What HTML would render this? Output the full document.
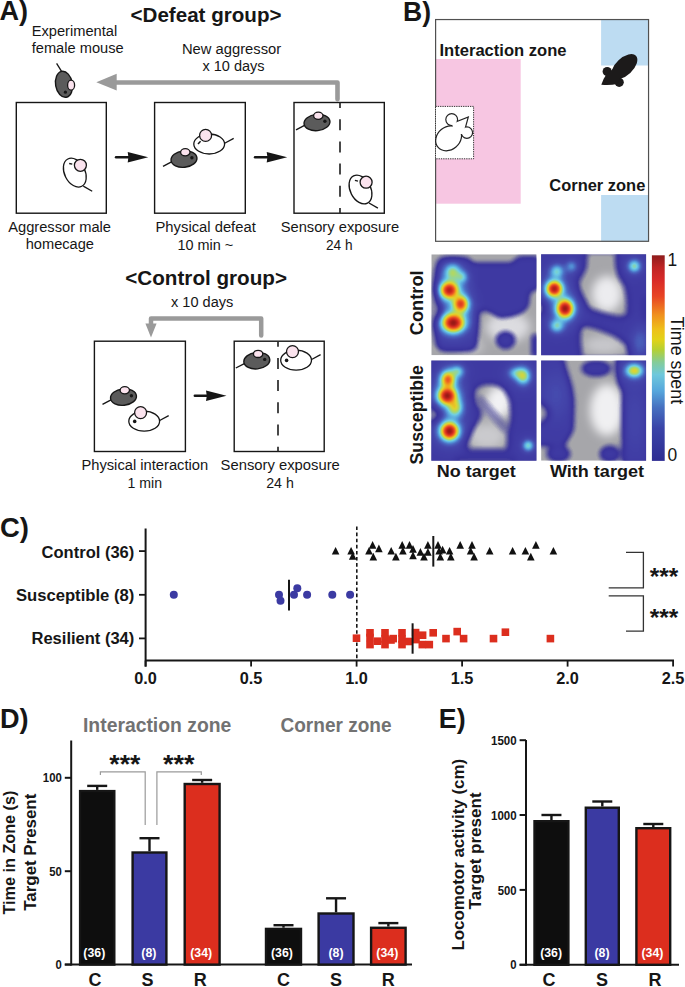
<!DOCTYPE html><html><head><meta charset="utf-8"><style>html,body{margin:0;padding:0;background:#fff;overflow:hidden;}svg{display:block;font-family:"Liberation Sans",sans-serif;}</style></head><body><svg width="685" height="987" viewBox="0 0 685 987"><rect width="685" height="987" fill="#fff"/><text x="-0.5" y="19.6" font-size="27" font-weight="bold" text-anchor="start" fill="#161616" textLength="28.6" lengthAdjust="spacingAndGlyphs" >A)</text>
<text x="130.5" y="22.3" font-size="19.5" font-weight="bold" text-anchor="start" fill="#161616" textLength="151" lengthAdjust="spacingAndGlyphs" >&lt;Defeat group&gt;</text>
<text x="31.7" y="35.8" font-size="14" font-weight="normal" text-anchor="start" fill="#161616" textLength="85.5" lengthAdjust="spacingAndGlyphs" >Experimental</text>
<text x="31.7" y="52.7" font-size="14" font-weight="normal" text-anchor="start" fill="#161616" textLength="92" lengthAdjust="spacingAndGlyphs" >female mouse</text>
<text x="181.9" y="53.9" font-size="14" font-weight="normal" text-anchor="start" fill="#161616" textLength="99.3" lengthAdjust="spacingAndGlyphs" >New aggressor</text>
<text x="202.4" y="71.4" font-size="14" font-weight="normal" text-anchor="start" fill="#161616" textLength="62.2" lengthAdjust="spacingAndGlyphs" >x 10 days</text>
<path d="M337.5 99.3 L337.5 82.5 L114 82.5" fill="none" stroke="#9a9a9a" stroke-width="4.6" stroke-linejoin="round" stroke-linecap="round"/>
<polygon points="96.3,82.3 116.7,73.8 116.7,90.6" fill="#9a9a9a"/>
<g transform="translate(64,84.3)"><line x1="-7.4" y1="-21" x2="-2.3" y2="-12.6" stroke="#161616" stroke-width="1.3"/><ellipse rx="8.4" ry="13.1" transform="rotate(-10)" fill="#5b5b5b" stroke="#161616" stroke-width="1.4"/><ellipse cx="7.1" cy="0.9" rx="3.5" ry="5" fill="#fbe3ee" stroke="#161616" stroke-width="1.3"/><circle cx="1.4" cy="7.9" r="1.6" fill="#161616"/></g>
<rect x="16.3" y="102.5" width="90.0" height="110.69999999999999" fill="#fff" stroke="#161616" stroke-width="1.4" />
<rect x="154.6" y="102.5" width="90.70000000000002" height="110.69999999999999" fill="#fff" stroke="#161616" stroke-width="1.4" />
<rect x="294" y="102.5" width="90.30000000000001" height="110.69999999999999" fill="#fff" stroke="#161616" stroke-width="1.4" />
<line x1="340" y1="102.5" x2="340" y2="213.2" stroke="#2a2a2a" stroke-width="1.7" stroke-dasharray="11 11.2" stroke-dashoffset="5.5"/>
<g transform="translate(74.8,172.6)"><line x1="8.5" y1="13.5" x2="17.4" y2="18.6" stroke="#161616" stroke-width="1.3"/><ellipse rx="10.2" ry="15.3" transform="rotate(-27)" fill="#fff" stroke="#161616" stroke-width="1.3"/><circle cx="5.6" cy="-7.3" r="6" fill="#fbe3ee" stroke="#161616" stroke-width="1.3"/><line x1="-5.6" y1="-9.1" x2="-2.5" y2="-8.4" stroke="#161616" stroke-width="1.3"/></g>
<g transform="translate(184,159.1)"><line x1="-21" y1="7.3" x2="-12" y2="2.6" stroke="#161616" stroke-width="1.3"/><ellipse rx="13" ry="8.2" transform="rotate(-6)" fill="#5b5b5b" stroke="#161616" stroke-width="1.4"/><ellipse cx="1.3" cy="-6.8" rx="4.7" ry="3.6" fill="#fbe3ee" stroke="#161616" stroke-width="1.3"/><circle cx="7.9" cy="-1.3" r="1.7" fill="#161616"/></g>
<g transform="translate(209.2,144)"><line x1="15" y1="-0.5" x2="24.5" y2="-5.6" stroke="#161616" stroke-width="1.3"/><ellipse rx="15.4" ry="10" fill="#fff" stroke="#161616" stroke-width="1.3"/><circle cx="-3.6" cy="-8.6" r="6" fill="#fbe3ee" stroke="#161616" stroke-width="1.3"/><line x1="-11.2" y1="0" x2="-8.6" y2="-2.7" stroke="#161616" stroke-width="1.5"/></g>
<g transform="translate(317,122.5)"><line x1="-21" y1="7.3" x2="-12" y2="2.6" stroke="#161616" stroke-width="1.3"/><ellipse rx="13" ry="8.2" transform="rotate(-6)" fill="#5b5b5b" stroke="#161616" stroke-width="1.4"/><ellipse cx="1.3" cy="-6.8" rx="4.7" ry="3.6" fill="#fbe3ee" stroke="#161616" stroke-width="1.3"/><circle cx="7.9" cy="-1.3" r="1.7" fill="#161616"/></g>
<g transform="translate(360.5,189.5)"><line x1="8.5" y1="13.5" x2="17.4" y2="18.6" stroke="#161616" stroke-width="1.3"/><ellipse rx="10.2" ry="15.3" transform="rotate(-27)" fill="#fff" stroke="#161616" stroke-width="1.3"/><circle cx="5.6" cy="-7.3" r="6" fill="#fbe3ee" stroke="#161616" stroke-width="1.3"/><line x1="-5.6" y1="-9.1" x2="-2.5" y2="-8.4" stroke="#161616" stroke-width="1.3"/></g>
<line x1="116" y1="157.3" x2="130.2" y2="157.3" stroke="#161616" stroke-width="2.4" stroke-linecap="round"/>
<path d="M148.2,157.3 L127.69999999999999,152.0 Q129.2,157.3 127.69999999999999,162.60000000000002 Z" fill="#161616"/>
<line x1="255" y1="157.3" x2="269.2" y2="157.3" stroke="#161616" stroke-width="2.4" stroke-linecap="round"/>
<path d="M287.2,157.3 L266.7,152.0 Q268.2,157.3 266.7,162.60000000000002 Z" fill="#161616"/>
<text x="8.2" y="232.1" font-size="14" font-weight="normal" text-anchor="start" fill="#161616" textLength="102.8" lengthAdjust="spacingAndGlyphs" >Aggressor male</text>
<text x="25.7" y="249.3" font-size="14" font-weight="normal" text-anchor="start" fill="#161616" textLength="68.3" lengthAdjust="spacingAndGlyphs" >homecage</text>
<text x="155.5" y="232.0" font-size="14" font-weight="normal" text-anchor="start" fill="#161616" textLength="100.3" lengthAdjust="spacingAndGlyphs" >Physical defeat</text>
<text x="177.4" y="249.8" font-size="14" font-weight="normal" text-anchor="start" fill="#161616" textLength="55.8" lengthAdjust="spacingAndGlyphs" >10 min ~</text>
<text x="280.7" y="232.0" font-size="14" font-weight="normal" text-anchor="start" fill="#161616" textLength="118.5" lengthAdjust="spacingAndGlyphs" >Sensory exposure</text>
<text x="326" y="249.8" font-size="14" font-weight="normal" text-anchor="start" fill="#161616" textLength="26.6" lengthAdjust="spacingAndGlyphs" >24 h</text>
<text x="125.3" y="285" font-size="19.5" font-weight="bold" text-anchor="start" fill="#161616" textLength="161.7" lengthAdjust="spacingAndGlyphs" >&lt;Control group&gt;</text>
<text x="171" y="307.2" font-size="14" font-weight="normal" text-anchor="start" fill="#161616" textLength="62.4" lengthAdjust="spacingAndGlyphs" >x 10 days</text>
<path d="M261.2 335.5 L261.2 318.5 L151 318.5 L151 325" fill="none" stroke="#9a9a9a" stroke-width="4.5" stroke-linejoin="round" stroke-linecap="round"/>
<polygon points="151,337.5 145.4,323.6 156.6,323.6" fill="#9a9a9a"/>
<rect x="94.4" y="341.2" width="91.0" height="110.30000000000001" fill="#fff" stroke="#161616" stroke-width="1.4" />
<rect x="234.2" y="341.2" width="90.0" height="110.30000000000001" fill="#fff" stroke="#161616" stroke-width="1.4" />
<line x1="278" y1="341.2" x2="278" y2="451.5" stroke="#2a2a2a" stroke-width="1.7" stroke-dasharray="11 11.2" stroke-dashoffset="5.5"/>
<g transform="translate(123.5,397.1)"><line x1="-21" y1="7.3" x2="-12" y2="2.6" stroke="#161616" stroke-width="1.3"/><ellipse rx="13" ry="8.2" transform="rotate(-6)" fill="#5b5b5b" stroke="#161616" stroke-width="1.4"/><ellipse cx="1.3" cy="-6.8" rx="4.7" ry="3.6" fill="#fbe3ee" stroke="#161616" stroke-width="1.3"/><circle cx="7.9" cy="-1.3" r="1.7" fill="#161616"/></g>
<g transform="translate(144.2,421.2)"><line x1="15" y1="-0.5" x2="24.5" y2="-5.6" stroke="#161616" stroke-width="1.3"/><ellipse rx="15.4" ry="10" fill="#fff" stroke="#161616" stroke-width="1.3"/><circle cx="-3.6" cy="-8.6" r="6" fill="#fbe3ee" stroke="#161616" stroke-width="1.3"/><circle cx="-9.5" cy="0.2" r="1.8" fill="#161616"/></g>
<g transform="translate(256.8,360.7)"><line x1="-21" y1="7.3" x2="-12" y2="2.6" stroke="#161616" stroke-width="1.3"/><ellipse rx="13" ry="8.2" transform="rotate(-6)" fill="#5b5b5b" stroke="#161616" stroke-width="1.4"/><ellipse cx="1.3" cy="-6.8" rx="4.7" ry="3.6" fill="#fbe3ee" stroke="#161616" stroke-width="1.3"/><circle cx="7.9" cy="-1.3" r="1.7" fill="#161616"/></g>
<g transform="translate(296.1,360.2)"><line x1="15" y1="-0.5" x2="24.5" y2="-5.6" stroke="#161616" stroke-width="1.3"/><ellipse rx="15.4" ry="10" fill="#fff" stroke="#161616" stroke-width="1.3"/><circle cx="-3.6" cy="-8.6" r="6" fill="#fbe3ee" stroke="#161616" stroke-width="1.3"/><circle cx="-9.5" cy="0.2" r="1.8" fill="#161616"/></g>
<line x1="194.8" y1="395.8" x2="208.5" y2="395.8" stroke="#161616" stroke-width="2.4" stroke-linecap="round"/>
<path d="M226.5,395.8 L206.0,390.5 Q207.5,395.8 206.0,401.1 Z" fill="#161616"/>
<text x="81.4" y="470.1" font-size="14" font-weight="normal" text-anchor="start" fill="#161616" textLength="126.8" lengthAdjust="spacingAndGlyphs" >Physical interaction</text>
<text x="127.5" y="487.7" font-size="14" font-weight="normal" text-anchor="start" fill="#161616" textLength="34.5" lengthAdjust="spacingAndGlyphs" >1 min</text>
<text x="220.6" y="470.1" font-size="14" font-weight="normal" text-anchor="start" fill="#161616" textLength="119.2" lengthAdjust="spacingAndGlyphs" >Sensory exposure</text>
<text x="266.2" y="487.7" font-size="14" font-weight="normal" text-anchor="start" fill="#161616" textLength="27.6" lengthAdjust="spacingAndGlyphs" >24 h</text>
<text x="403" y="20.7" font-size="27" font-weight="bold" text-anchor="start" fill="#161616" textLength="28" lengthAdjust="spacingAndGlyphs" >B)</text>
<rect x="435.6" y="19.55" width="212.95" height="221.75" fill="#fff"/>
<rect x="435.5" y="59" width="85.2" height="144.7" fill="#f7c6e2"/>
<rect x="601.1" y="19.5" width="47.4" height="46" fill="#bddcf2"/>
<rect x="601.1" y="195" width="47.4" height="46.3" fill="#bddcf2"/>
<rect x="435.6" y="19.55" width="212.95" height="221.75" fill="none" stroke="#505050" stroke-width="1.2"/>
<text x="439.5" y="55.9" font-size="16.5" font-weight="bold" text-anchor="start" fill="#161616" textLength="127" lengthAdjust="spacingAndGlyphs" >Interaction zone</text>
<text x="549.3" y="190.6" font-size="16.5" font-weight="bold" text-anchor="start" fill="#161616" textLength="96" lengthAdjust="spacingAndGlyphs" >Corner zone</text>
<rect x="435.5" y="106.4" width="38.1" height="52.4" fill="#fff" stroke="#333" stroke-width="1" stroke-dasharray="1.3 1.0"/>
<g fill="none" stroke="#222" stroke-width="2.4"><ellipse cx="448.6" cy="138.3" rx="13.3" ry="10.8" transform="rotate(-40 448.6 138.3)"/><circle cx="451.7" cy="119.6" r="5.3"/><circle cx="466.9" cy="132.6" r="5.1"/><polygon points="452,124 467.4,118 463,134 455,134"/></g>
<g fill="#fff" stroke="none"><ellipse cx="448.6" cy="138.3" rx="13.3" ry="10.8" transform="rotate(-40 448.6 138.3)"/><circle cx="451.7" cy="119.6" r="5.3"/><circle cx="466.9" cy="132.6" r="5.1"/><polygon points="452,124 467.4,118 463,134 455,134"/></g>
<g fill="#1c1a1a"><ellipse cx="624.4" cy="66.6" rx="15.8" ry="8.6" transform="rotate(-43 624.4 66.6)"/><circle cx="607.2" cy="71.5" r="4.6"/><circle cx="619.2" cy="82.3" r="4.6"/><path d="M601.3 84.8 Q603 79 606 75 L613 69 L621 77 L617 84 Q611 85.5 601.3 84.8 Z"/></g>
<defs><filter id="heatf" x="-10%" y="-10%" width="120%" height="120%" color-interpolation-filters="sRGB"><feGaussianBlur in="SourceGraphic" stdDeviation="0.8" result="b"/><feComponentTransfer in="b" result="c"><feFuncR type="table" tableValues="0.180 0.186 0.191 0.197 0.202 0.208 0.213 0.220 0.227 0.234 0.241 0.249 0.256 0.263 0.270 0.276 0.282 0.288 0.295 0.306 0.317 0.329 0.343 0.365 0.388 0.411 0.434 0.472 0.515 0.558 0.600 0.643 0.687 0.732 0.776 0.821 0.865 0.893 0.905 0.917 0.929 0.942 0.947 0.943 0.939 0.935 0.931 0.927 0.917 0.904 0.890 0.877 0.863 0.850 0.837 0.814 0.784 0.755 0.725 0.696 0.667 0.637 0.608 0.578 0.549"/><feFuncG type="table" tableValues="0.173 0.176 0.179 0.182 0.185 0.188 0.191 0.197 0.205 0.213 0.222 0.234 0.249 0.263 0.277 0.311 0.347 0.383 0.420 0.473 0.526 0.579 0.630 0.674 0.718 0.761 0.805 0.820 0.826 0.833 0.839 0.845 0.845 0.842 0.839 0.836 0.833 0.811 0.771 0.731 0.691 0.651 0.608 0.561 0.513 0.465 0.418 0.370 0.336 0.309 0.282 0.256 0.229 0.202 0.175 0.160 0.152 0.143 0.135 0.127 0.119 0.111 0.103 0.094 0.086"/><feFuncB type="table" tableValues="0.565 0.571 0.577 0.583 0.589 0.595 0.601 0.609 0.617 0.625 0.633 0.643 0.653 0.663 0.674 0.695 0.718 0.740 0.763 0.789 0.816 0.843 0.864 0.871 0.878 0.885 0.892 0.827 0.738 0.649 0.560 0.471 0.406 0.354 0.302 0.250 0.198 0.167 0.156 0.146 0.135 0.124 0.120 0.125 0.131 0.136 0.142 0.147 0.147 0.144 0.140 0.137 0.134 0.130 0.127 0.123 0.118 0.113 0.108 0.103 0.098 0.093 0.088 0.083 0.078"/></feComponentTransfer><feColorMatrix in="b" type="matrix" values="0 0 0 0 0 0 0 0 0 0 0 0 0 0 0 1 0 0 0 0" result="a"/><feComponentTransfer in="a" result="a2"><feFuncA type="table" tableValues="0.000 0.000 0.112 0.269 0.425 0.581 0.737 0.894 1.000 1.000 1.000 1.000 1.000 1.000 1.000 1.000 1.000 1.000 1.000 1.000 1.000 1.000 1.000 1.000 1.000 1.000 1.000 1.000 1.000 1.000 1.000 1.000 1.000 1.000 1.000 1.000 1.000 1.000 1.000 1.000 1.000 1.000 1.000 1.000 1.000 1.000 1.000 1.000 1.000 1.000 1.000 1.000 1.000 1.000 1.000 1.000 1.000 1.000 1.000 1.000 1.000 1.000 1.000 1.000 1.000"/></feComponentTransfer><feComposite in="c" in2="a2" operator="in"/></filter><filter id="rb25" x="-20%" y="-20%" width="140%" height="140%"><feGaussianBlur stdDeviation="2.5"/></filter><filter id="rb32" x="-20%" y="-20%" width="140%" height="140%"><feGaussianBlur stdDeviation="3.2"/></filter><filter id="rb4" x="-20%" y="-20%" width="140%" height="140%"><feGaussianBlur stdDeviation="4"/></filter><filter id="bgb" x="-30%" y="-30%" width="160%" height="160%"><feGaussianBlur stdDeviation="5"/></filter><radialGradient id="hot"><stop offset="0.00" stop-color="#fff" stop-opacity="1.000"/><stop offset="0.05" stop-color="#fff" stop-opacity="0.973"/><stop offset="0.10" stop-color="#fff" stop-opacity="0.896"/><stop offset="0.15" stop-color="#fff" stop-opacity="0.783"/><stop offset="0.20" stop-color="#fff" stop-opacity="0.651"/><stop offset="0.25" stop-color="#fff" stop-opacity="0.516"/><stop offset="0.30" stop-color="#fff" stop-opacity="0.393"/><stop offset="0.35" stop-color="#fff" stop-opacity="0.291"/><stop offset="0.40" stop-color="#fff" stop-opacity="0.211"/><stop offset="0.45" stop-color="#fff" stop-opacity="0.152"/><stop offset="0.50" stop-color="#fff" stop-opacity="0.110"/><stop offset="0.55" stop-color="#fff" stop-opacity="0.081"/><stop offset="0.60" stop-color="#fff" stop-opacity="0.061"/><stop offset="0.65" stop-color="#fff" stop-opacity="0.047"/><stop offset="0.70" stop-color="#fff" stop-opacity="0.036"/><stop offset="0.75" stop-color="#fff" stop-opacity="0.028"/><stop offset="0.80" stop-color="#fff" stop-opacity="0.022"/><stop offset="0.85" stop-color="#fff" stop-opacity="0.017"/><stop offset="0.90" stop-color="#fff" stop-opacity="0.013"/><stop offset="0.95" stop-color="#fff" stop-opacity="0.010"/><stop offset="1" stop-color="#fff" stop-opacity="0"/></radialGradient><linearGradient id="cbar" x1="0" y1="0" x2="0" y2="1"><stop offset="0" stop-color="#8e1c1c"/><stop offset="0.06" stop-color="#c02424"/><stop offset="0.12" stop-color="#d82a28"/><stop offset="0.2" stop-color="#e84424"/><stop offset="0.29" stop-color="#f0901e"/><stop offset="0.36" stop-color="#eec01a"/><stop offset="0.41" stop-color="#e2d218"/><stop offset="0.46" stop-color="#b4d034"/><stop offset="0.52" stop-color="#84cc98"/><stop offset="0.58" stop-color="#6ec8dc"/><stop offset="0.66" stop-color="#56a6dc"/><stop offset="0.74" stop-color="#4670c0"/><stop offset="0.84" stop-color="#3a44a8"/><stop offset="1" stop-color="#2e2c92"/></linearGradient><clipPath id="c1"><rect x="431.3" y="254.3" width="105.2" height="101"/></clipPath><clipPath id="c2"><rect x="541.1" y="254.3" width="105" height="101"/></clipPath><clipPath id="c3"><rect x="431.3" y="360.5" width="105.2" height="100.2"/></clipPath><clipPath id="c4"><rect x="541.1" y="360.5" width="105" height="100.2"/></clipPath></defs>
<g clip-path="url(#c1)"><rect x="431.3" y="254.3" width="105.2" height="101" fill="#a6a6aa"/><g filter="url(#bgb)"><ellipse cx="508" cy="327" rx="22" ry="15" fill="#dcdce0"/><ellipse cx="470" cy="346" rx="14" ry="8" fill="#c4c4c8"/></g></g>
<g clip-path="url(#c1)"><g filter="url(#heatf)">
<rect x="416.3" y="239.3" width="135.2" height="131" fill="#000"/>
<g opacity="0.16" filter="url(#rb32)"><path d="M437,262 L441,257.5 L468,257.5 L472,262.5 L512,262.5 L518,256 L540,256 L540,289 L530,292 L529,306 L524,312 L513,316.5 L500,318.6 L489,312 L478,310 L477,349 L470,351.5 L440,351.5 L436,345 L436,322 L443,311 L437,300 L436,275 Z" fill="#fff"/><ellipse cx="505.6" cy="340.1" rx="10.2" ry="9.1" fill="#fff"/><rect x="531.4" y="334" width="9" height="24" fill="#fff"/><ellipse cx="522.8" cy="272" rx="9" ry="9" fill="#fff" opacity="0.5"/></g>
<ellipse cx="452.5" cy="272.1" rx="27.9" ry="27.9" fill="url(#hot)" opacity="0.38"/>
<ellipse cx="449.3" cy="290.1" rx="29.2" ry="27.9" fill="url(#hot)" opacity="0.92"/>
<ellipse cx="460.7" cy="304" rx="24.7" ry="27.3" fill="url(#hot)" opacity="0.78"/>
<ellipse cx="453.3" cy="322.8" rx="35.1" ry="29.9" fill="url(#hot)" opacity="1.0"/>
<ellipse cx="462" cy="277" rx="19.5" ry="19.5" fill="url(#hot)" opacity="0.25"/>
</g></g>
<g clip-path="url(#c2)"><rect x="541.1" y="254.3" width="105" height="101" fill="#a6a6aa"/><g filter="url(#bgb)"><ellipse cx="607" cy="294" rx="15" ry="18" fill="#ececef"/><ellipse cx="604" cy="345" rx="20" ry="9" fill="#c8c8cc"/></g></g>
<g clip-path="url(#c2)"><g filter="url(#heatf)">
<rect x="526.1" y="239.3" width="135" height="131" fill="#000"/>
<g opacity="0.16" filter="url(#rb32)"><rect x="530" y="245" width="130" height="120" fill="#fff"/><path d="M585,250 L584.8,256.6 L583.7,268 L576.8,280.5 L576.8,289.6 L581.4,299.8 L587.1,310.1 L604.2,315.8 L621.2,319.2 L629.2,315.8 L629.2,299.8 L626.9,286.2 L620.1,274.8 L617.8,263.4 L618,250 Z" fill="#000"/><path d="M584.8,323.7 L579.1,326 L578,340 L580.2,360 L632,360 L629.2,343.1 L615.5,334 L598.5,327.2 Z" fill="#000"/><ellipse cx="540" cy="308" rx="6" ry="8" fill="#000"/><rect x="643" y="297" width="6" height="24" fill="#000" opacity="0.5"/></g>
<ellipse cx="556.8" cy="271.4" rx="22.8" ry="22.8" fill="url(#hot)" opacity="0.3"/>
<ellipse cx="571.6" cy="266.5" rx="19.5" ry="19.5" fill="url(#hot)" opacity="0.2"/>
<ellipse cx="554.3" cy="288.8" rx="25.4" ry="25.4" fill="url(#hot)" opacity="0.95"/>
<ellipse cx="565" cy="308.6" rx="26.7" ry="29.2" fill="url(#hot)" opacity="1.0"/>
<ellipse cx="556.8" cy="325.9" rx="23.4" ry="22.1" fill="url(#hot)" opacity="0.32"/>
<ellipse cx="634.3" cy="266.2" rx="21.4" ry="21.4" fill="url(#hot)" opacity="0.36"/>
<ellipse cx="640" cy="342" rx="32.5" ry="52.0" fill="url(#hot)" opacity="0.12"/>
</g></g>
<g clip-path="url(#c3)"><rect x="431.3" y="360.5" width="105.2" height="100.2" fill="#a6a6aa"/><g filter="url(#bgb)"><ellipse cx="499" cy="402" rx="13" ry="16" fill="#f2f2f4"/><ellipse cx="487" cy="436" rx="18" ry="13" fill="#cacace"/></g></g>
<g clip-path="url(#c3)"><g filter="url(#heatf)">
<rect x="416.3" y="345.5" width="135.2" height="130.2" fill="#000"/>
<g opacity="0.16" filter="url(#rb32)"><rect x="420" y="350" width="130" height="120" fill="#fff"/><path d="M479.8,383.6 L488,381.8 L496,382.4 L503,385.5 L507.1,389.8 L512,399.7 L513.3,414.6 L512,424.6 L509.6,434.5 L509.6,444.4 L508.3,451.8 L466.2,451.5 L463.7,444.4 L466.2,437 L471.1,427 L477.3,419.6 L479.8,412.1 L473.6,404.7 L471.1,396 L474,388 Z" fill="#000"/><path d="M426,404 L436,406 L444.5,415 L436,423 L426,424 Z" fill="#000"/><line x1="477" y1="397" x2="508" y2="431" stroke="#fff" stroke-width="5" opacity="0.55"/><rect x="455" y="457" width="60" height="8" fill="#000" opacity="0.45"/></g>
<ellipse cx="457.4" cy="371.4" rx="22.8" ry="19.5" fill="url(#hot)" opacity="0.3"/>
<ellipse cx="447.9" cy="379.6" rx="23.4" ry="27.3" fill="url(#hot)" opacity="0.7"/>
<ellipse cx="447.3" cy="395.7" rx="28.6" ry="27.3" fill="url(#hot)" opacity="1.0"/>
<ellipse cx="455" cy="407.5" rx="24.7" ry="29.2" fill="url(#hot)" opacity="0.45"/>
<ellipse cx="449.5" cy="431.1" rx="28.6" ry="28.6" fill="url(#hot)" opacity="1.0"/>
<ellipse cx="523.2" cy="376.2" rx="23.4" ry="27.3" fill="url(#hot)" opacity="0.42"/>
<ellipse cx="516" cy="373" rx="26.0" ry="19.5" fill="url(#hot)" opacity="0.25"/>
<ellipse cx="528.2" cy="445.6" rx="18.2" ry="18.2" fill="url(#hot)" opacity="0.34"/>
</g></g>
<g clip-path="url(#c4)"><rect x="541.1" y="360.5" width="105" height="100.2" fill="#a6a6aa"/><g filter="url(#bgb)"><ellipse cx="607" cy="410" rx="17" ry="26" fill="#f0f0f2"/></g></g>
<g clip-path="url(#c4)"><g filter="url(#heatf)">
<rect x="526.1" y="345.5" width="135" height="130.2" fill="#000"/>
<g opacity="0.16" filter="url(#rb32)"><path d="M530,356 L563,356 L566,370 L571,386 L573.5,400 L573.5,430 L569,438 L564,446 L530,446 Z" fill="#fff"/><path d="M615.5,356 L650,356 L650,465 L622.5,465 L622.5,392 L617.5,382 Z" fill="#fff"/><ellipse cx="596.3" cy="368.5" rx="15" ry="8" fill="#fff"/><ellipse cx="609.6" cy="454" rx="10.5" ry="8.5" fill="#fff"/><ellipse cx="558.5" cy="454" rx="12" ry="8" fill="#fff"/><path d="M530 399.5 L541 400 L550.5 408 L550.5 418 L541 426 L530 426 Z" fill="#000"/></g>
<ellipse cx="634.3" cy="370.7" rx="28.6" ry="22.1" fill="url(#hot)" opacity="0.5"/>
<ellipse cx="556" cy="395" rx="52.0" ry="91.0" fill="url(#hot)" opacity="0.08"/>
<ellipse cx="635" cy="420" rx="39.0" ry="130.0" fill="url(#hot)" opacity="0.06"/>
</g></g>
<defs><filter id="bl2" x="-50%" y="-50%" width="200%" height="200%"><feGaussianBlur stdDeviation="1.6"/></filter></defs>
<rect x="651.9" y="255.3" width="12.8" height="205.6" fill="url(#cbar)"/>
<text x="667.6" y="265.8" font-size="17.5" font-weight="normal" text-anchor="start" fill="#161616" textLength="9.7" lengthAdjust="spacingAndGlyphs" >1</text>
<text x="667.4" y="460.5" font-size="17.5" font-weight="normal" text-anchor="start" fill="#161616" textLength="9.7" lengthAdjust="spacingAndGlyphs" >0</text>
<text x="0" y="0" font-size="18" fill="#161616" textLength="87.5" lengthAdjust="spacingAndGlyphs" transform="translate(670.5,316.6) rotate(90)">Time spent</text>
<text x="0" y="0" font-size="17.8" font-weight="bold" fill="#161616" textLength="65" lengthAdjust="spacingAndGlyphs" transform="translate(422.8,335.3) rotate(-90)">Control</text>
<text x="0" y="0" font-size="17.8" font-weight="bold" fill="#161616" textLength="99.4" lengthAdjust="spacingAndGlyphs" transform="translate(422.8,464.5) rotate(-90)">Susceptible</text>
<text x="436.8" y="477.3" font-size="17.3" font-weight="bold" text-anchor="start" fill="#161616" textLength="78.9" lengthAdjust="spacingAndGlyphs" >No target</text>
<text x="549.9" y="477.3" font-size="17.3" font-weight="bold" text-anchor="start" fill="#161616" textLength="94.1" lengthAdjust="spacingAndGlyphs" >With target</text>
<text x="0" y="537.3" font-size="27" font-weight="bold" text-anchor="start" fill="#161616" textLength="29" lengthAdjust="spacingAndGlyphs" >C)</text>
<text x="41.6" y="557.9" font-size="16" font-weight="bold" text-anchor="start" fill="#161616" textLength="92.7" lengthAdjust="spacingAndGlyphs" >Control (36)</text>
<text x="15.9" y="600.6" font-size="16" font-weight="bold" text-anchor="start" fill="#161616" textLength="118.4" lengthAdjust="spacingAndGlyphs" >Susceptible (8)</text>
<text x="31.5" y="644.3" font-size="16" font-weight="bold" text-anchor="start" fill="#161616" textLength="102.8" lengthAdjust="spacingAndGlyphs" >Resilient (34)</text>
<line x1="145.6" y1="528.5" x2="145.6" y2="666.6" stroke="#161616" stroke-width="2" />
<line x1="145.6" y1="660.5" x2="674" y2="660.5" stroke="#161616" stroke-width="2.1" />
<line x1="139" y1="551.1" x2="145.6" y2="551.1" stroke="#161616" stroke-width="1.8" />
<line x1="139" y1="594.8" x2="145.6" y2="594.8" stroke="#161616" stroke-width="1.8" />
<line x1="139" y1="638.4" x2="145.6" y2="638.4" stroke="#161616" stroke-width="1.8" />
<line x1="145.6" y1="660.5" x2="145.6" y2="666.6" stroke="#161616" stroke-width="1.8" />
<text x="145.6" y="683.7" font-size="16.3" font-weight="bold" text-anchor="middle" fill="#161616" >0.0</text>
<line x1="251.1" y1="660.5" x2="251.1" y2="666.6" stroke="#161616" stroke-width="1.8" />
<text x="251.1" y="683.7" font-size="16.3" font-weight="bold" text-anchor="middle" fill="#161616" >0.5</text>
<line x1="356.6" y1="660.5" x2="356.6" y2="666.6" stroke="#161616" stroke-width="1.8" />
<text x="356.6" y="683.7" font-size="16.3" font-weight="bold" text-anchor="middle" fill="#161616" >1.0</text>
<line x1="462.1" y1="660.5" x2="462.1" y2="666.6" stroke="#161616" stroke-width="1.8" />
<text x="462.1" y="683.7" font-size="16.3" font-weight="bold" text-anchor="middle" fill="#161616" >1.5</text>
<line x1="567.6" y1="660.5" x2="567.6" y2="666.6" stroke="#161616" stroke-width="1.8" />
<text x="567.6" y="683.7" font-size="16.3" font-weight="bold" text-anchor="middle" fill="#161616" >2.0</text>
<line x1="673.1" y1="660.5" x2="673.1" y2="666.6" stroke="#161616" stroke-width="1.8" />
<text x="673.1" y="683.7" font-size="16.3" font-weight="bold" text-anchor="middle" fill="#161616" >2.5</text>
<line x1="356.8" y1="526.5" x2="356.8" y2="660" stroke="#161616" stroke-width="1.6" stroke-dasharray="3.6 2.5"/>
<g fill="#111"><polygon points="335.6,547.0 339.4,554.6 331.8,554.6"/><polygon points="351.1,547.0 354.9,554.6 347.3,554.6"/><polygon points="352.7,552.1 356.5,559.7 348.9,559.7"/><polygon points="372.6,541.1 376.4,548.7 368.8,548.7"/><polygon points="369.0,547.0 372.8,554.6 365.2,554.6"/><polygon points="378.9,544.6 382.7,552.2 375.1,552.2"/><polygon points="373.3,552.8 377.1,560.4 369.5,560.4"/><polygon points="391.2,547.0 395.0,554.6 387.4,554.6"/><polygon points="395.9,552.8 399.7,560.4 392.1,560.4"/><polygon points="402.2,541.1 406.0,548.7 398.4,548.7"/><polygon points="402.9,547.0 406.7,554.6 399.1,554.6"/><polygon points="409.5,541.1 413.3,548.7 405.7,548.7"/><polygon points="413.0,545.1 416.8,552.7 409.2,552.7"/><polygon points="413.0,551.6 416.8,559.2 409.2,559.2"/><polygon points="420.4,548.1 424.2,555.7 416.6,555.7"/><polygon points="424.0,552.8 427.8,560.4 420.2,560.4"/><polygon points="427.9,541.1 431.7,548.7 424.1,548.7"/><polygon points="427.9,548.1 431.7,555.7 424.1,555.7"/><polygon points="438.0,541.1 441.8,548.7 434.2,548.7"/><polygon points="439.1,547.0 442.9,554.6 435.3,554.6"/><polygon points="440.3,552.8 444.1,560.4 436.5,560.4"/><polygon points="442.6,545.8 446.4,553.4 438.8,553.4"/><polygon points="449.6,547.0 453.4,554.6 445.8,554.6"/><polygon points="450.8,552.8 454.6,560.4 447.0,560.4"/><polygon points="460.2,541.1 464.0,548.7 456.4,548.7"/><polygon points="472.0,541.1 475.8,548.7 468.2,548.7"/><polygon points="470.6,547.0 474.4,554.6 466.8,554.6"/><polygon points="474.1,552.8 477.9,560.4 470.3,560.4"/><polygon points="489.7,547.0 493.5,554.6 485.9,554.6"/><polygon points="512.6,547.0 516.4,554.6 508.8,554.6"/><polygon points="525.4,547.0 529.2,554.6 521.6,554.6"/><polygon points="535.9,541.1 539.7,548.7 532.1,548.7"/><polygon points="530.8,552.8 534.6,560.4 527.0,560.4"/><polygon points="553.4,547.0 557.2,554.6 549.6,554.6"/></g>
<line x1="433.3" y1="536" x2="433.3" y2="566.6" stroke="#161616" stroke-width="2" />
<g fill="#3b3aa2"><circle cx="173.8" cy="594.7" r="4"/><circle cx="279" cy="594.7" r="4"/><circle cx="280.5" cy="600.8" r="4"/><circle cx="294" cy="594.7" r="4"/><circle cx="297.3" cy="588.3" r="4"/><circle cx="307.1" cy="594.7" r="4"/><circle cx="332.3" cy="594.7" r="4"/><circle cx="350.1" cy="594.7" r="4"/></g>
<line x1="289" y1="579.8" x2="289" y2="610.6" stroke="#161616" stroke-width="2" />
<g fill="#dc2e1e"><rect x="352.7" y="634.4" width="7.6" height="7.6"/><rect x="442.2" y="634.8" width="7.6" height="7.6"/><rect x="453.4" y="627.8" width="7.6" height="7.6"/><rect x="459.8" y="634.8" width="7.6" height="7.6"/><rect x="489.7" y="634.8" width="7.6" height="7.6"/><rect x="501.6" y="628.4" width="7.6" height="7.6"/><rect x="546.6" y="634.8" width="7.6" height="7.6"/><rect x="366.2" y="629.0" width="7.6" height="7.6"/><rect x="381.2" y="629.0" width="7.6" height="7.6"/><rect x="398.2" y="629.0" width="7.6" height="7.6"/><rect x="411.8" y="628.8" width="7.6" height="7.6"/><rect x="429.4" y="629.0" width="7.6" height="7.6"/><rect x="366.2" y="633.7" width="7.6" height="7.6"/><rect x="373.7" y="637.4" width="7.6" height="7.6"/><rect x="389.4" y="634.8" width="7.6" height="7.6"/><rect x="404.8" y="637.7" width="7.6" height="7.6"/><rect x="412.2" y="635.8" width="7.6" height="7.6"/><rect x="418.8" y="631.4" width="7.6" height="7.6"/><rect x="398.2" y="635.2" width="7.6" height="7.6"/><rect x="381.2" y="635.2" width="7.6" height="7.6"/><rect x="366.2" y="640.8" width="7.6" height="7.6"/><rect x="381.2" y="640.8" width="7.6" height="7.6"/><rect x="398.2" y="640.8" width="7.6" height="7.6"/><rect x="418.5" y="640.8" width="7.6" height="7.6"/><rect x="425.5" y="640.8" width="7.6" height="7.6"/><rect x="387.2" y="636.2" width="7.6" height="7.6"/></g>
<line x1="412.6" y1="623.3" x2="412.6" y2="653.7" stroke="#161616" stroke-width="2" />
<path d="M626 552.4 H643.4 V587.8 H608.7" fill="none" stroke="#333" stroke-width="1.3"/>
<path d="M608.7 595.8 H643.4 V631.2 H626" fill="none" stroke="#333" stroke-width="1.3"/>
<text x="649.8" y="585" font-size="23.5" font-weight="bold" text-anchor="start" fill="#161616" textLength="28.6" lengthAdjust="spacingAndGlyphs" >***</text>
<text x="649.8" y="625.9" font-size="23.5" font-weight="bold" text-anchor="start" fill="#161616" textLength="28.6" lengthAdjust="spacingAndGlyphs" >***</text>
<text x="0" y="727.6" font-size="27" font-weight="bold" text-anchor="start" fill="#161616" textLength="28.6" lengthAdjust="spacingAndGlyphs" >D)</text>
<text x="83" y="731.8" font-size="19.6" font-weight="bold" text-anchor="start" fill="#727272" textLength="148.3" lengthAdjust="spacingAndGlyphs" >Interaction zone</text>
<text x="280.5" y="731.8" font-size="19.6" font-weight="bold" text-anchor="start" fill="#727272" textLength="111" lengthAdjust="spacingAndGlyphs" >Corner zone</text>
<line x1="71.2" y1="740.5" x2="71.2" y2="965.6" stroke="#161616" stroke-width="2" />
<line x1="64.8" y1="964.6" x2="412" y2="964.6" stroke="#161616" stroke-width="2" />
<line x1="64.8" y1="777.8" x2="71.2" y2="777.8" stroke="#161616" stroke-width="2" />
<text x="61.8" y="782.4" font-size="12.8" font-weight="bold" text-anchor="end" fill="#161616" textLength="19" lengthAdjust="spacingAndGlyphs" >100</text>
<line x1="64.8" y1="871.2" x2="71.2" y2="871.2" stroke="#161616" stroke-width="2" />
<text x="61.8" y="875.8000000000001" font-size="12.8" font-weight="bold" text-anchor="end" fill="#161616" textLength="12.6" lengthAdjust="spacingAndGlyphs" >50</text>
<line x1="64.8" y1="964.6" x2="71.2" y2="964.6" stroke="#161616" stroke-width="2" />
<text x="61.8" y="969.2" font-size="12.8" font-weight="bold" text-anchor="end" fill="#161616" textLength="6.3" lengthAdjust="spacingAndGlyphs" >0</text>
<text x="0" y="0" font-size="17" font-weight="bold" fill="#161616" textLength="123.9" lengthAdjust="spacingAndGlyphs" transform="translate(15.4,914.5) rotate(-90)">Time in Zone (s)</text>
<text x="0" y="0" font-size="17" font-weight="bold" fill="#161616" textLength="117" lengthAdjust="spacingAndGlyphs" transform="translate(35.9,910.7) rotate(-90)">Target Present</text>
<rect x="80.10000000000001" y="791.1" width="34.199999999999996" height="173.50000000000006" fill="#0e0e0e" stroke="#161616" stroke-width="2.4"/>
<line x1="97.2" y1="789.9" x2="97.2" y2="785.9" stroke="#161616" stroke-width="2.4" />
<line x1="87.2" y1="785.9" x2="107.2" y2="785.9" stroke="#161616" stroke-width="2.4" />
<rect x="132.6" y="852.5" width="33.79999999999999" height="112.10000000000007" fill="#3b3aa2" stroke="#161616" stroke-width="2.4"/>
<line x1="149.5" y1="851.3" x2="149.5" y2="838.2" stroke="#161616" stroke-width="2.4" />
<line x1="139.5" y1="838.2" x2="159.5" y2="838.2" stroke="#161616" stroke-width="2.4" />
<rect x="184.7" y="784.0" width="34.90000000000001" height="180.60000000000008" fill="#dc2e1e" stroke="#161616" stroke-width="2.4"/>
<line x1="202.15" y1="782.8" x2="202.15" y2="780" stroke="#161616" stroke-width="2.4" />
<line x1="192.15" y1="780" x2="212.15" y2="780" stroke="#161616" stroke-width="2.4" />
<rect x="266.0" y="928.9000000000001" width="34.99999999999998" height="35.699999999999974" fill="#0e0e0e" stroke="#161616" stroke-width="2.4"/>
<line x1="283.5" y1="927.7" x2="283.5" y2="925.2" stroke="#161616" stroke-width="2.4" />
<line x1="273.5" y1="925.2" x2="293.5" y2="925.2" stroke="#161616" stroke-width="2.4" />
<rect x="318.59999999999997" y="913.5" width="34.90000000000001" height="51.100000000000065" fill="#3b3aa2" stroke="#161616" stroke-width="2.4"/>
<line x1="336.04999999999995" y1="912.3" x2="336.04999999999995" y2="898.3" stroke="#161616" stroke-width="2.4" />
<line x1="326.04999999999995" y1="898.3" x2="346.04999999999995" y2="898.3" stroke="#161616" stroke-width="2.4" />
<rect x="371.09999999999997" y="927.8000000000001" width="34.500000000000036" height="36.8" fill="#dc2e1e" stroke="#161616" stroke-width="2.4"/>
<line x1="388.35" y1="926.6" x2="388.35" y2="923.1" stroke="#161616" stroke-width="2.4" />
<line x1="378.35" y1="923.1" x2="398.35" y2="923.1" stroke="#161616" stroke-width="2.4" />
<path d="M100.4 775 V771.9 H145.2 V824.9" fill="none" stroke="#9a9a9a" stroke-width="1.2"/>
<path d="M156.9 824.9 V771.9 H201.3 V775" fill="none" stroke="#9a9a9a" stroke-width="1.2"/>
<text x="109.3" y="773.3" font-size="26.5" font-weight="bold" text-anchor="start" fill="#161616" textLength="31" lengthAdjust="spacingAndGlyphs" >***</text>
<text x="162.9" y="773.3" font-size="26.5" font-weight="bold" text-anchor="start" fill="#161616" textLength="31.6" lengthAdjust="spacingAndGlyphs" >***</text>
<text x="94.3" y="956.5" font-size="12.3" font-weight="bold" text-anchor="middle" fill="#fff" >(36)</text>
<text x="148.8" y="956.5" font-size="12.3" font-weight="bold" text-anchor="middle" fill="#fff" >(8)</text>
<text x="201.2" y="956.5" font-size="12.3" font-weight="bold" text-anchor="middle" fill="#fff" >(34)</text>
<text x="281.9" y="956.5" font-size="12.3" font-weight="bold" text-anchor="middle" fill="#fff" >(36)</text>
<text x="336" y="956.5" font-size="12.3" font-weight="bold" text-anchor="middle" fill="#fff" >(8)</text>
<text x="387.3" y="956.5" font-size="12.3" font-weight="bold" text-anchor="middle" fill="#fff" >(34)</text>
<text x="94.9" y="985.5" font-size="18" font-weight="bold" text-anchor="middle" fill="#161616" >C</text>
<text x="147.4" y="985.5" font-size="18" font-weight="bold" text-anchor="middle" fill="#161616" >S</text>
<text x="200.2" y="985.5" font-size="18" font-weight="bold" text-anchor="middle" fill="#161616" >R</text>
<text x="283.5" y="985.5" font-size="18" font-weight="bold" text-anchor="middle" fill="#161616" >C</text>
<text x="336" y="985.5" font-size="18" font-weight="bold" text-anchor="middle" fill="#161616" >S</text>
<text x="388.3" y="985.5" font-size="18" font-weight="bold" text-anchor="middle" fill="#161616" >R</text>
<text x="438.8" y="727.7" font-size="27" font-weight="bold" text-anchor="start" fill="#161616" textLength="26.8" lengthAdjust="spacingAndGlyphs" >E)</text>
<line x1="526" y1="740" x2="526" y2="965.8" stroke="#161616" stroke-width="2" />
<line x1="519.6" y1="964.8" x2="679" y2="964.8" stroke="#161616" stroke-width="2" />
<line x1="519.6" y1="740.2" x2="526" y2="740.2" stroke="#161616" stroke-width="2" />
<text x="516.6" y="744.8000000000001" font-size="12.8" font-weight="bold" text-anchor="end" fill="#161616" textLength="25.6" lengthAdjust="spacingAndGlyphs" >1500</text>
<line x1="519.6" y1="815" x2="526" y2="815" stroke="#161616" stroke-width="2" />
<text x="516.6" y="819.6" font-size="12.8" font-weight="bold" text-anchor="end" fill="#161616" textLength="25.6" lengthAdjust="spacingAndGlyphs" >1000</text>
<line x1="519.6" y1="889.9" x2="526" y2="889.9" stroke="#161616" stroke-width="2" />
<text x="516.6" y="894.5" font-size="12.8" font-weight="bold" text-anchor="end" fill="#161616" textLength="18.9" lengthAdjust="spacingAndGlyphs" >500</text>
<line x1="519.6" y1="964.8" x2="526" y2="964.8" stroke="#161616" stroke-width="2" />
<text x="516.6" y="969.4" font-size="12.8" font-weight="bold" text-anchor="end" fill="#161616" textLength="6.3" lengthAdjust="spacingAndGlyphs" >0</text>
<text x="0" y="0" font-size="17" font-weight="bold" fill="#161616" textLength="191.7" lengthAdjust="spacingAndGlyphs" transform="translate(463.6,950.6) rotate(-90)">Locomotor activity (cm)</text>
<text x="0" y="0" font-size="17" font-weight="bold" fill="#161616" textLength="117" lengthAdjust="spacingAndGlyphs" transform="translate(480.6,909.4) rotate(-90)">Target present</text>
<rect x="534.5" y="821.2" width="33.90000000000007" height="143.59999999999997" fill="#0e0e0e" stroke="#161616" stroke-width="2.4"/>
<line x1="551.45" y1="820" x2="551.45" y2="815" stroke="#161616" stroke-width="2.4" />
<line x1="541.45" y1="815" x2="561.45" y2="815" stroke="#161616" stroke-width="2.4" />
<rect x="585.8000000000001" y="807.7" width="32.99999999999998" height="157.09999999999997" fill="#3b3aa2" stroke="#161616" stroke-width="2.4"/>
<line x1="602.3" y1="806.5" x2="602.3" y2="801.5" stroke="#161616" stroke-width="2.4" />
<line x1="592.3" y1="801.5" x2="612.3" y2="801.5" stroke="#161616" stroke-width="2.4" />
<rect x="636.4000000000001" y="828.2" width="33.79999999999993" height="136.59999999999997" fill="#dc2e1e" stroke="#161616" stroke-width="2.4"/>
<line x1="653.3" y1="827" x2="653.3" y2="824" stroke="#161616" stroke-width="2.4" />
<line x1="643.3" y1="824" x2="663.3" y2="824" stroke="#161616" stroke-width="2.4" />
<text x="551.1" y="956.7" font-size="12.3" font-weight="bold" text-anchor="middle" fill="#fff" >(36)</text>
<text x="602" y="956.7" font-size="12.3" font-weight="bold" text-anchor="middle" fill="#fff" >(8)</text>
<text x="652.4" y="956.7" font-size="12.3" font-weight="bold" text-anchor="middle" fill="#fff" >(34)</text>
<text x="548.9" y="985.5" font-size="18" font-weight="bold" text-anchor="middle" fill="#161616" >C</text>
<text x="602" y="985.5" font-size="18" font-weight="bold" text-anchor="middle" fill="#161616" >S</text>
<text x="655.1" y="985.5" font-size="18" font-weight="bold" text-anchor="middle" fill="#161616" >R</text></svg></body></html>
